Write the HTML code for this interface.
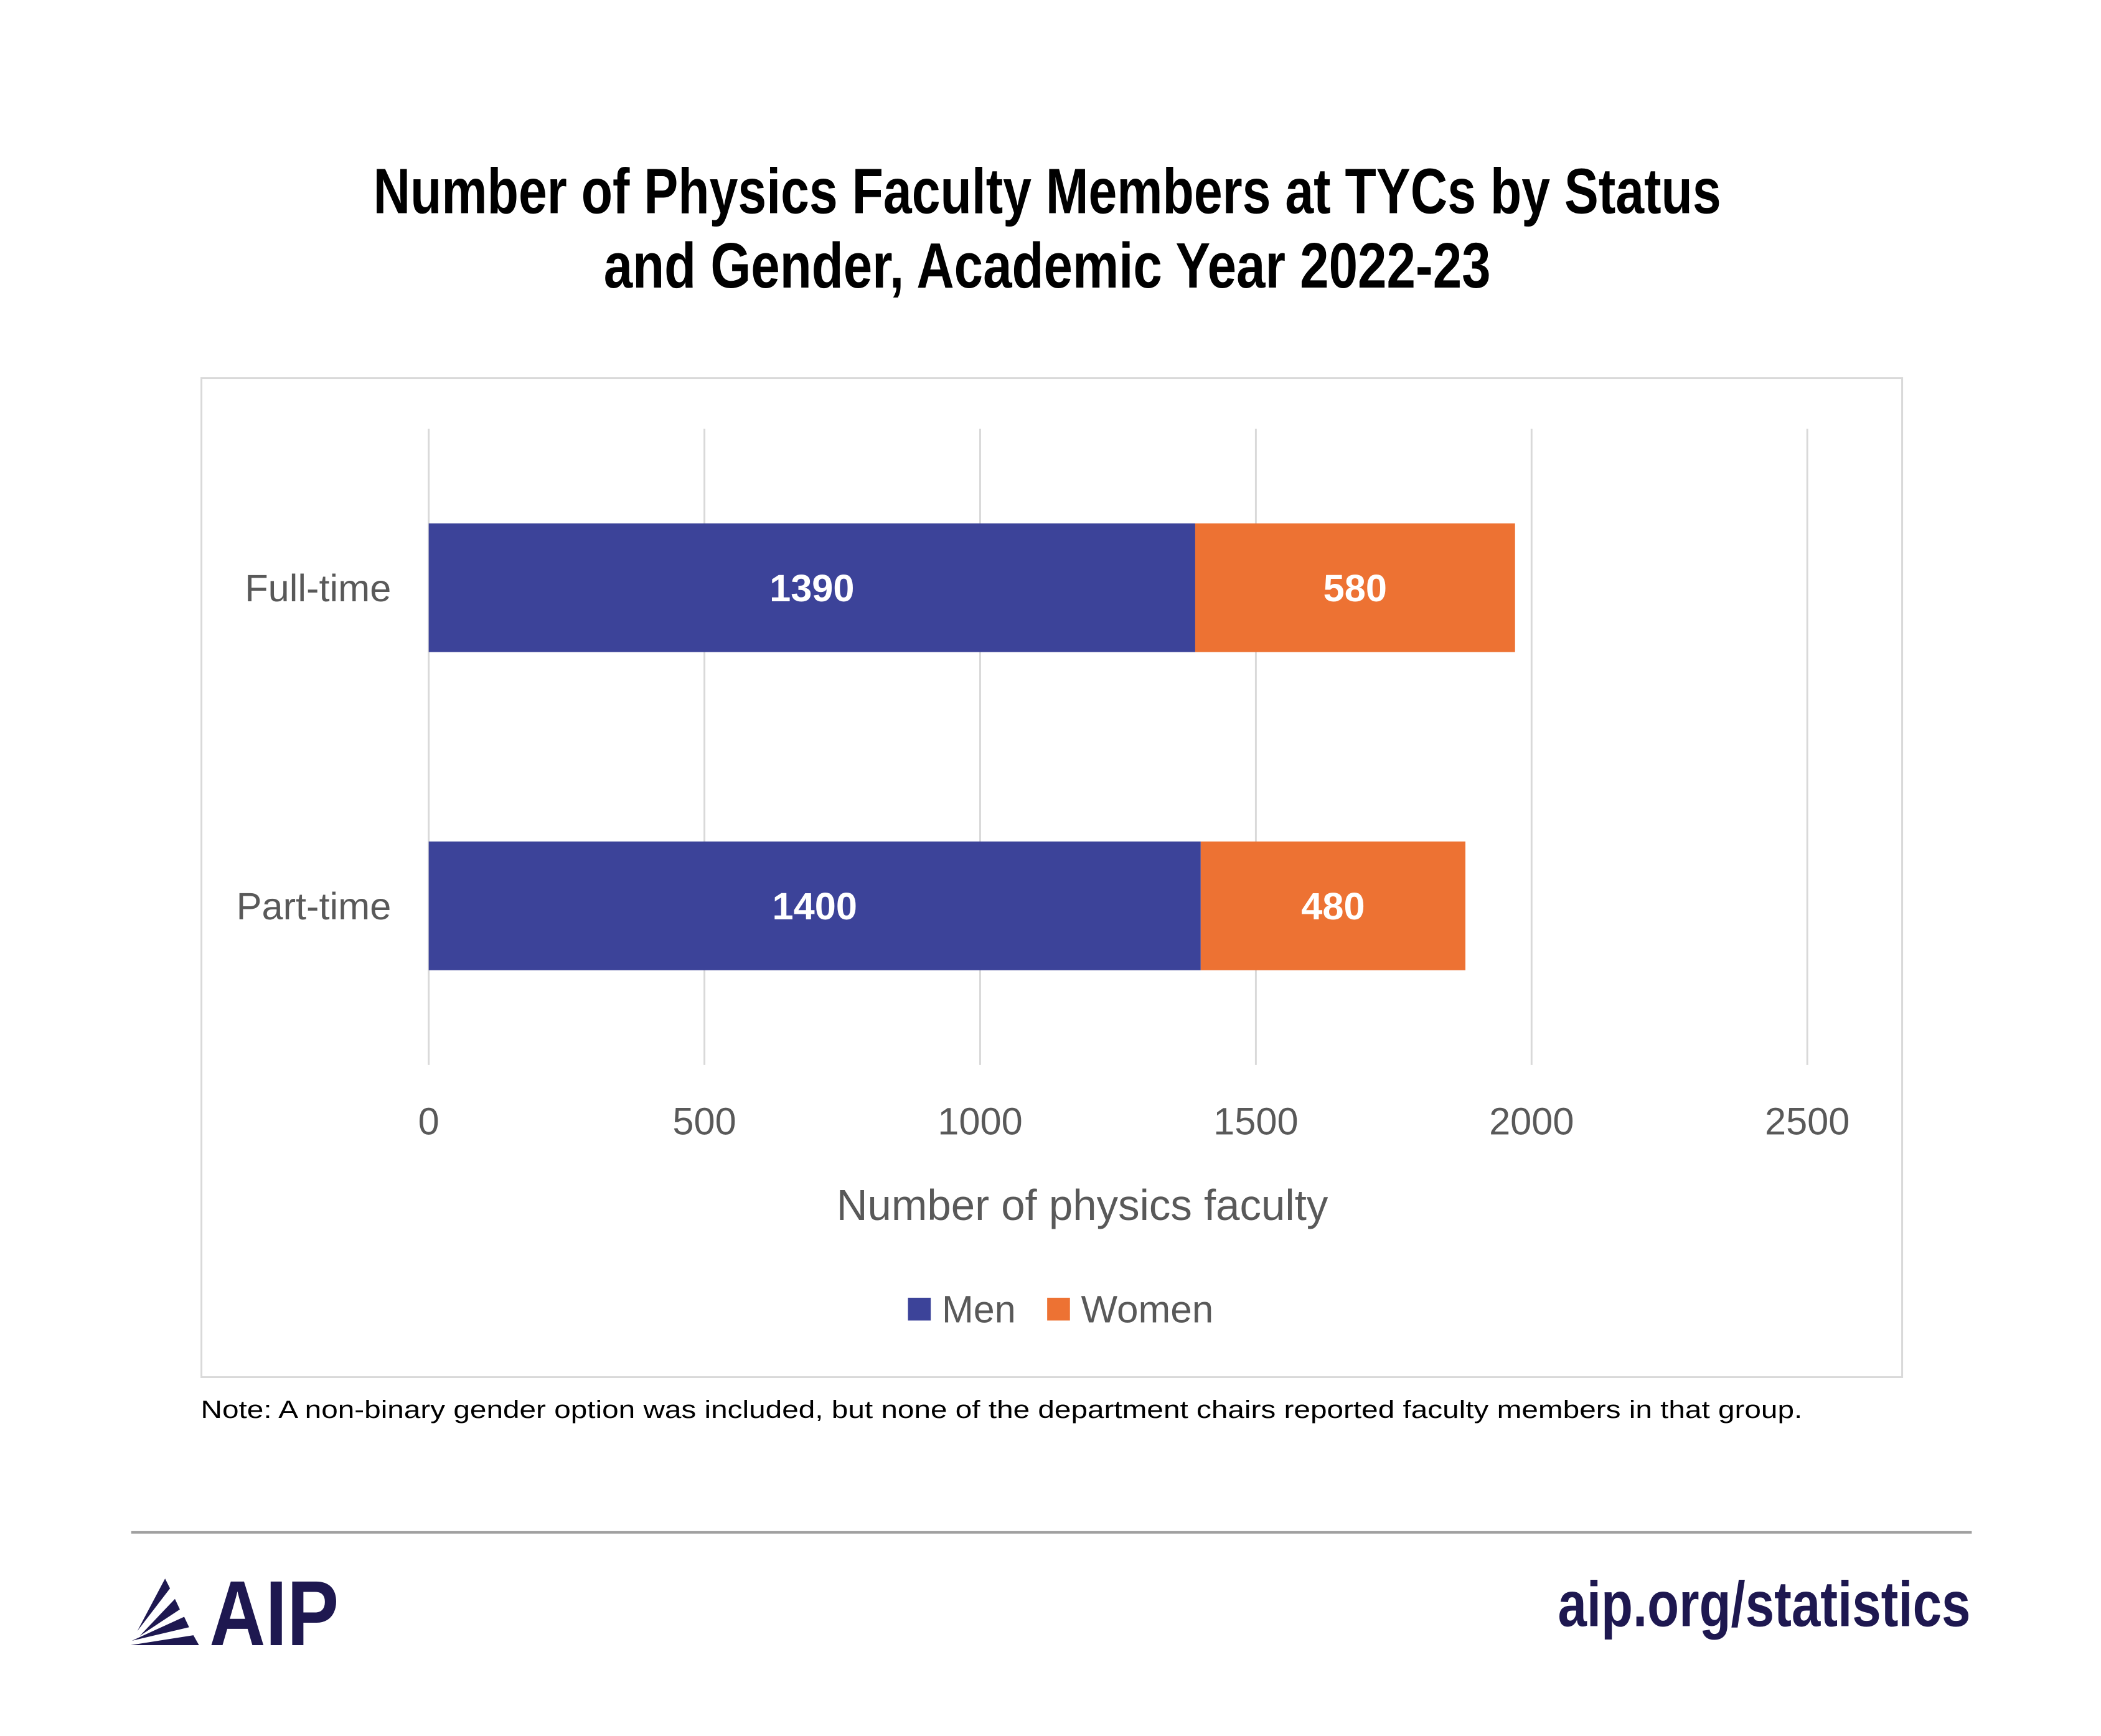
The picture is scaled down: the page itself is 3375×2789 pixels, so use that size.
<!DOCTYPE html>
<html><head><meta charset="utf-8"><style>
html,body{margin:0;padding:0;background:#fff}
svg{display:block}
text{font-family:"Liberation Sans",sans-serif}
</style></head><body>
<svg id="chart" width="3375" height="2789" viewBox="0 0 3375 2789" xmlns="http://www.w3.org/2000/svg">
<rect width="3375" height="2789" fill="#fff"/>
<g transform="scale(0.9895)">
<g font-weight="bold" font-size="104" fill="#000" text-anchor="middle">
<text x="1700" y="346" textLength="2188" lengthAdjust="spacingAndGlyphs">Number of Physics Faculty Members at TYCs by Status</text>
<text x="1700" y="467" textLength="1440" lengthAdjust="spacingAndGlyphs">and Gender, Academic Year 2022-23</text>
</g>
<rect x="327" y="614" width="2761" height="1622" fill="none" stroke="#d9d9d9" stroke-width="3"/>
<g id="grid"></g>
<g id="bars"></g>
<g id="ticks"></g>
<g id="cats"></g>
<text x="1757" y="1981" font-size="70" fill="#595959" text-anchor="middle" textLength="798" lengthAdjust="spacingAndGlyphs">Number of physics faculty</text>
<g>
<rect x="1474" y="2107" width="37" height="37" fill="#3c4399"/>
<text x="1529" y="2147" font-size="62" fill="#595959" textLength="120" lengthAdjust="spacingAndGlyphs">Men</text>
<rect x="1700" y="2107" width="37" height="37" fill="#ed7233"/>
<text x="1755" y="2147" font-size="62" fill="#595959" textLength="215" lengthAdjust="spacingAndGlyphs">Women</text>
</g>
<text x="326" y="2302" font-size="40" fill="#000" textLength="2600" lengthAdjust="spacingAndGlyphs">Note: A non-binary gender option was included, but none of the department chairs reported faculty members in that group.</text>
<rect x="213" y="2486" width="2988" height="4" fill="#a0a0a0"/>
<g fill="#1e1850">
<polygon points="268,2563 276,2579 223,2648" />
<polygon points="284,2596 292,2613 227,2656" />
<polygon points="299,2625 307,2642 214,2664" />
<polygon points="314,2655 323,2671 212,2671" />
<text x="340" y="2671" font-size="150" font-weight="bold" textLength="210" lengthAdjust="spacingAndGlyphs">AIP</text>
</g>
<text x="3199" y="2640" font-size="104" font-weight="bold" fill="#1e1850" text-anchor="end" textLength="670" lengthAdjust="spacingAndGlyphs">aip.org/statistics</text>
</g>
</svg>
<script>
const categories=["Full-time","Part-time"];
const menValues=[1390,1400];
const womenValues=[580,480];
const tickValues=[0,500,1000,1500,2000,2500];
const NS="http://www.w3.org/2000/svg";
const x0=696,x1=2934,xMax=2500;
const xs=v=>x0+(x1-x0)*v/xMax;
const plotTop=696,plotBot=1729,bandH=(plotBot-plotTop)/categories.length,barH=209;
const yc=i=>plotTop+bandH*(i+0.5);
function mk(tag,attrs,parent){const e=document.createElementNS(NS,tag);for(const k in attrs)e.setAttribute(k,attrs[k]);parent.appendChild(e);return e;}
const grid=document.getElementById('grid'),bars=document.getElementById('bars'),ticks=document.getElementById('ticks'),cats=document.getElementById('cats');
tickValues.forEach(v=>{
 const l=mk('line',{x1:xs(v),x2:xs(v),y1:plotTop,y2:plotBot,stroke:'#d9d9d9','stroke-width':3},grid);
 
 
 const t=mk('text',{x:xs(v),y:1842,'font-size':62,fill:'#595959','text-anchor':'middle'},ticks);
 t.textContent=v;
 
 
});
categories.forEach((c,i)=>{
 const y=yc(i)-barH/2;
 const m=mk('rect',{x:xs(0),y:y,width:xs(menValues[i])-xs(0),height:barH,fill:'#3c4399'},bars);
 
 
 const w=mk('rect',{x:xs(menValues[i]),y:y,width:xs(menValues[i]+womenValues[i])-xs(menValues[i]),height:barH,fill:'#ed7233'},bars);
 
 
 const lm=mk('text',{x:(xs(0)+xs(menValues[i]))/2,y:yc(i)+22,'font-size':62,'font-weight':'bold',fill:'#fff','text-anchor':'middle'},bars);
 lm.textContent=menValues[i];
 
 
 const lw=mk('text',{x:(xs(menValues[i])+xs(menValues[i]+womenValues[i]))/2,y:yc(i)+22,'font-size':62,'font-weight':'bold',fill:'#fff','text-anchor':'middle'},bars);
 lw.textContent=womenValues[i];
 
 
 const cl=mk('text',{x:635,y:yc(i)+22,'font-size':62,fill:'#595959','text-anchor':'end'},cats);
 cl.textContent=c;
 
 
});
</script>
</body></html>
